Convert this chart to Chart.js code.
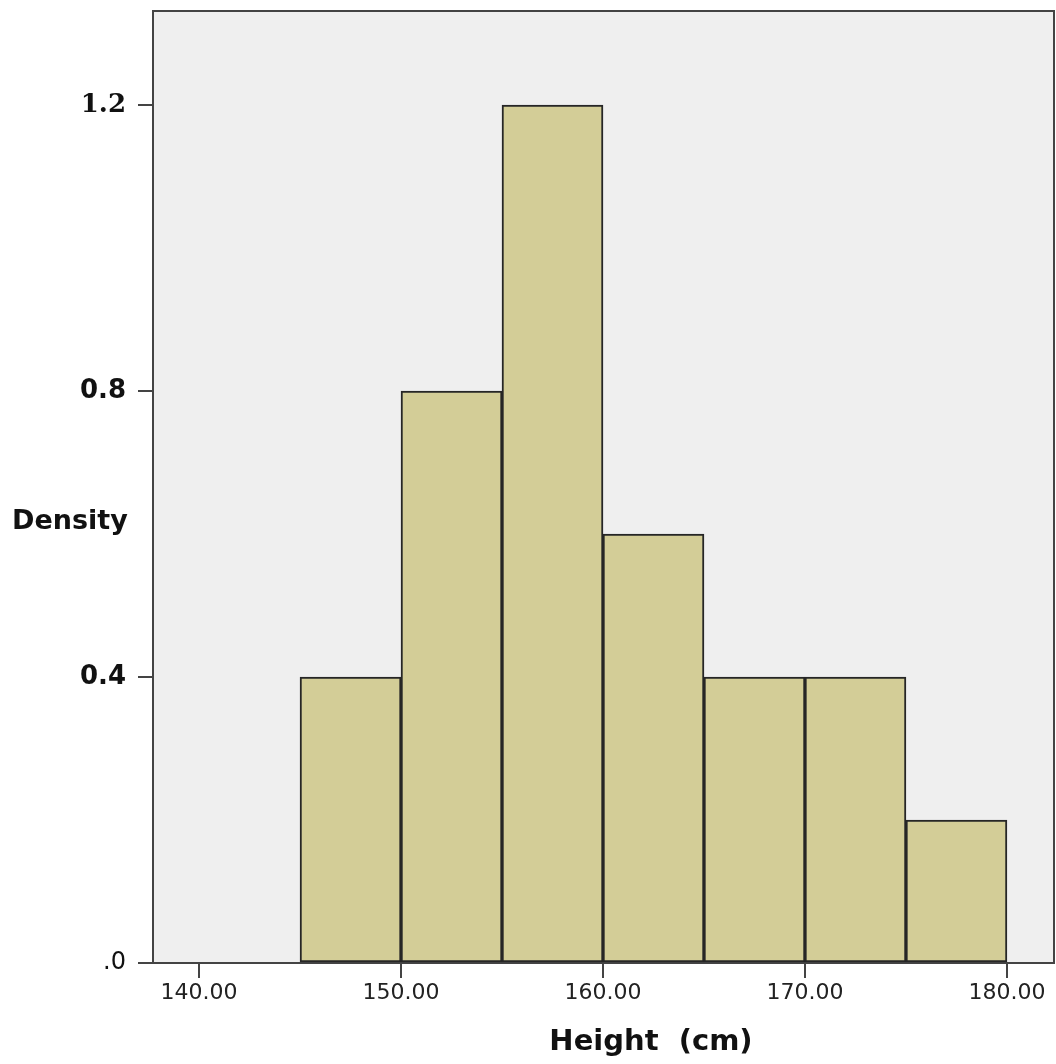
<!DOCTYPE html>
<html>
<head>
<meta charset="utf-8">
<script src="https://cdn.jsdelivr.net/npm/chart.js@4.4.1/dist/chart.umd.min.js"></script>
<style>
  html, body { margin: 0; padding: 0; background: #ffffff; }
  #wrap { width: 1056px; height: 1064px; }
</style>
</head>
<body>
<div id="wrap"><canvas id="histChart" width="1056" height="1064"></canvas></div>
<script>
const binLow = [145, 150, 155, 160, 165, 170, 175];
const binHigh = [150, 155, 160, 165, 170, 175, 180];
const density = [0.4, 0.8, 1.2, 0.6, 0.4, 0.4, 0.2];

const xTicks = [140, 150, 160, 170, 180];
const xTickLabels = ["140.00", "150.00", "160.00", "170.00", "180.00"];
const yTicks = [0, 0.4, 0.8, 1.2];
const yTickLabels = [".0", "0.4", "0.8", "1.2"];

const xTitle = "Height  (cm)";
const yTitle = "Density";

const frameColor = "#444444";

const framePlugin = {
  id: "frame",
  beforeDraw(chart) {
    const { ctx, chartArea } = chart;
    ctx.save();
    ctx.fillStyle = "#efefef";
    ctx.fillRect(chartArea.left, chartArea.top, chartArea.right - chartArea.left, chartArea.bottom - chartArea.top);
    ctx.restore();
  },
  afterDraw(chart) {
    const { ctx, chartArea } = chart;
    ctx.save();
    ctx.strokeStyle = frameColor;
    ctx.lineWidth = 2;
    ctx.beginPath();
    ctx.moveTo(chartArea.left, chartArea.bottom);
    ctx.lineTo(chartArea.left, chartArea.top);
    ctx.lineTo(chartArea.right, chartArea.top);
    ctx.lineTo(chartArea.right, chartArea.bottom);
    ctx.stroke();

    // axis titles (y title sits horizontally, like the original)
    ctx.fillStyle = "#111111";
    ctx.textBaseline = "middle";
    ctx.textAlign = "left";
    ctx.font = "bold 27px 'DejaVu Sans'";
    ctx.fillText(yTitle, 12, 522);
    ctx.textAlign = "center";
    ctx.font = "bold 29px 'DejaVu Sans'";
    ctx.fillText(xTitle, 651, 1042);
    ctx.restore();
  }
};

new Chart(document.getElementById("histChart"), {
  type: "bar",
  data: {
    datasets: [
      {
        label: yTitle,
        data: binLow.map((low, index) => ({ x: (low + binHigh[index]) / 2, y: density[index] })),
        backgroundColor: "#d3cd97",
        borderColor: "#262626",
        borderWidth: 2,
        borderSkipped: false,
        barPercentage: 1,
        categoryPercentage: 1
      }
    ]
  },
  options: {
    responsive: false,
    animation: false,
    layout: { padding: { top: 11, right: 2, left: 0, bottom: 0 } },
    plugins: { legend: { display: false }, tooltip: { enabled: false } },
    scales: {
      x: {
        type: "linear",
        offset: false,
        min: 137.72,
        max: 182.33,
        afterFit: (scale) => {
          scale.height = 101;
          scale.paddingLeft = 0;
          scale.paddingRight = 0;
        },
        afterBuildTicks: (scale) => { scale.ticks = xTicks.map((value) => ({ value })); },
        grid: { offset: false, drawOnChartArea: false, drawTicks: true, tickLength: 15, tickColor: frameColor, lineWidth: 2 },
        border: { display: true, color: frameColor, width: 2 },
        ticks: {
          maxRotation: 0,
          padding: 2,
          color: "#222222",
          font: { family: "'DejaVu Sans'", size: 22 },
          callback: (value) => xTickLabels[xTicks.indexOf(value)]
        }
      },
      y: {
        min: 0,
        max: 1.3315,
        afterFit: (scale) => {
          scale.width = 153;
          scale.paddingTop = 0;
          scale.paddingBottom = 0;
        },
        afterBuildTicks: (scale) => { scale.ticks = yTicks.map((value) => ({ value })); },
        grid: { drawOnChartArea: false, drawTicks: true, tickLength: 15, tickColor: frameColor, lineWidth: 2 },
        border: { display: true, color: frameColor, width: 2 },
        ticks: {
          padding: 12,
          color: "#111111",
          font: (context) => {
            const value = context.tick ? context.tick.value : null;
            if (value === 1.2) return { family: "'DejaVu Serif'", size: 26, weight: "bold" };
            if (value === 0) return { family: "'DejaVu Sans'", size: 24, weight: "normal" };
            return { family: "'DejaVu Sans'", size: 26, weight: "bold" };
          },
          callback: (value) => yTickLabels[yTicks.indexOf(value)]
        }
      }
    }
  },
  plugins: [framePlugin]
});
</script>
</body>
</html>
